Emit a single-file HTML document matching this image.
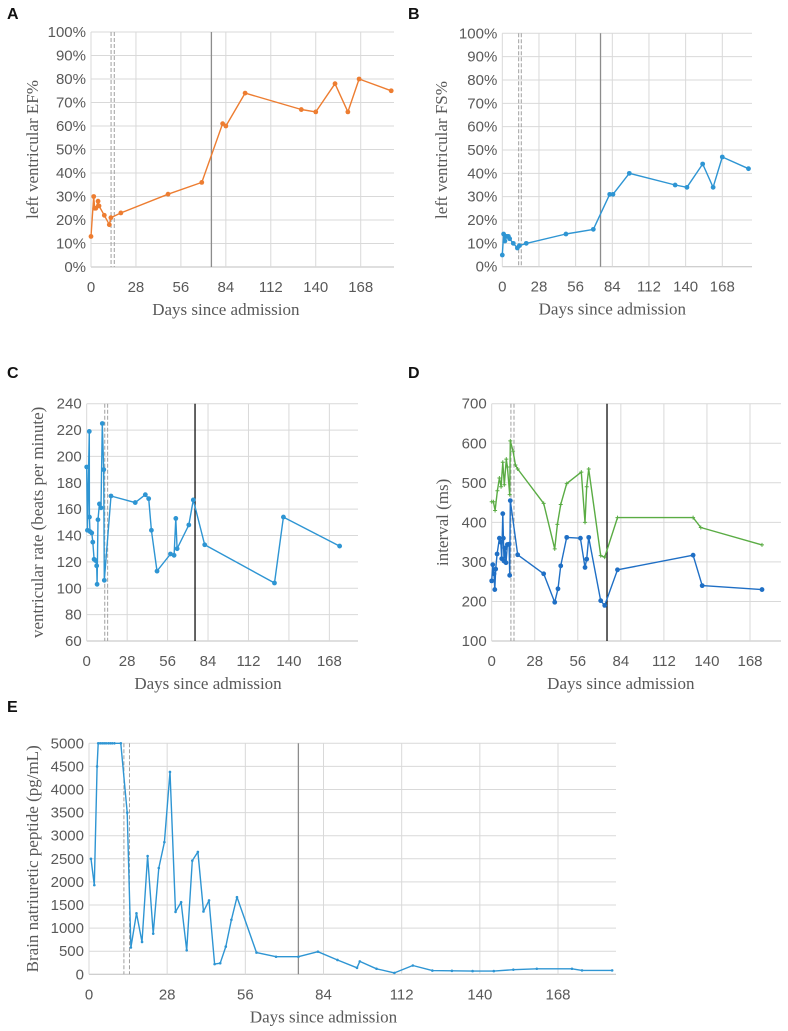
<!DOCTYPE html>
<html><head><meta charset="utf-8"><style>
html,body{margin:0;padding:0;background:#fff;}
svg{display:block;}
.tick{font-family:"Liberation Sans",sans-serif;font-size:15px;fill:#595959;}
.atitle{font-family:"Liberation Serif",serif;font-size:17px;fill:#595959;}
.plabel{font-family:"Liberation Sans",sans-serif;font-size:16px;font-weight:bold;fill:#111;}
</style></head><body>
<svg id="fig" width="788" height="1031" viewBox="0 0 788 1031"></svg>
<script>
// ---- Data ----
const xTicks = [0,28,56,84,112,140,168];
const pctTicks = [0,10,20,30,40,50,60,70,80,90,100];
const hrTicks = [60,80,100,120,140,160,180,200,220,240];
const intTicks = [100,200,300,400,500,600,700];
const bnpTicks = [0,500,1000,1500,2000,2500,3000,3500,4000,4500,5000];
const eventDashedA = 12.5, eventDashedB = 14.5, eventSolid = 75;

const efDays = [0,1.7,2.3,3,4.4,5,8.3,11.4,12.4,18.6,48,69,82,84,96,131,140,152,160,167,187];
const efVals = [13,30,25,25,28,26,22,18,21,23,31,36,61,60,74,67,66,78,66,80,75];

const fsDays = [0,1,2,3.3,4.6,5.6,8.4,11.5,13,18.3,48.6,69.5,82,84.5,97,132,141,153,161,168,188];
const fsVals = [5,14,11,13,13,12,10,8,9,10,14,16,31,31,40,35,34,44,34,47,42];

const hrDays = [0,0.5,1.8,1.9,2.3,3.5,4.2,5.1,6.2,6.9,7.2,7.8,8.8,9.9,10.8,11.8,12.2,16.8,33.6,40.6,42.9,44.8,48.7,58,60.5,61.7,62.6,70.7,73.8,81.7,130,136.2,175.1];
const hrVals = [192,144,219,154,143,142,135,122,121,117,103,152,164,161,225,190,106,170,165,171,168,144,113,126,125,153,130,148,167,133,104,154,132];

const qtDays = [0,0.7,1.5,2,2.6,3.5,5,5.9,6.5,7.2,7.6,8,8.7,9.3,10.2,11.3,11.7,12.1,16.9,33.8,41,43.1,44.9,48.8,57.7,60.7,61.8,63.1,70.9,73.5,81.8,131,136.9,175.8];
const qtVals = [252,293,270,230,282,320,360,350,308,422,360,302,335,298,344,345,266,455,318,270,198,232,290,362,360,286,307,362,202,190,280,317,240,230];
const rrDays = [0,1.1,2.2,3.7,5,6.1,7.2,8.2,9.5,10.2,11.7,12.1,13.9,15.4,16.9,33.8,41,42.7,44.9,48.8,58.3,60.7,61.8,63.1,70.9,73.5,81.8,131,136,175.8];
const rrVals = [452,452,430,480,512,490,552,495,560,540,470,606,580,545,535,448,333,395,445,498,527,400,490,535,316,312,412,412,387,343];

const bnpDays = [0.7,1.9,2.9,3.3,4,4.7,5.4,6.1,6.9,7.6,8.3,9.1,11.4,13.7,15,17,19,21,23,25,27,29,31,33,35,37,39,41,43,45,47,49,51,53,60,67,75,82,89,96,97,103,109.4,116,123,130,137.4,145,152,160.4,173,176.6,187.4];
const bnpVals = [2500,1930,4500,5000,5000,5000,5000,5000,5000,5000,5000,5000,5000,3500,580,1320,700,2560,880,2300,2860,4380,1350,1560,520,2460,2650,1360,1600,220,240,600,1180,1670,470,380,380,490,310,140,280,120,30,190,80,75,70,70,100,120,120,85,85];

// ---- Drawing ----
const NS = "http://www.w3.org/2000/svg";
const fig = document.getElementById('fig');
function mk(tag, attrs, parent){
  const e = document.createElementNS(NS, tag);
  for (const k in attrs) e.setAttribute(k, attrs[k]);
  (parent||fig).appendChild(e);
  return e;
}

function panel(cfg){
  const g = mk('g', {});
  
  
  const xs = d => cfg.x0 + d * cfg.pxPerDay;
  const ys = v => cfg.yBot - (v - cfg.yMin) / (cfg.yMax - cfg.yMin) * (cfg.yBot - cfg.yTop);
  const pl = mk('text', {x: cfg.letterX, y: cfg.letterY, class: 'plabel'}, g);
  pl.textContent = cfg.letter;
  
  
  cfg.yTicks.forEach(v => {
    const ln = mk('line', {x1: cfg.x0, x2: cfg.right, y1: ys(v), y2: ys(v), stroke: v === cfg.yMin ? '#bfbfbf' : '#d9d9d9', 'stroke-width': 1}, g);
    
    
    const t = mk('text', {x: cfg.x0 - 5, y: ys(v) + 5, class: 'tick', 'text-anchor': 'end'}, g);
    t.textContent = v + (cfg.pct ? '%' : '');
    
    
  });
  xTicks.forEach(d => {
    const ln = mk('line', {x1: xs(d), x2: xs(d), y1: cfg.yTop, y2: cfg.yBot, stroke: '#d9d9d9', 'stroke-width': 1}, g);
    
    
    const t = mk('text', {x: xs(d), y: cfg.yBot + 25, class: 'tick', 'text-anchor': 'middle'}, g);
    t.textContent = d;
    
    
  });
  [eventDashedA, eventDashedB].forEach(d => {
    const ln = mk('line', {x1: xs(d), x2: xs(d), y1: cfg.yTop, y2: cfg.yBot, stroke: '#a0a0a0', 'stroke-width': 1, 'stroke-dasharray': '4,2'}, g);
    
    
  });
  const sl = mk('line', {x1: xs(eventSolid), x2: xs(eventSolid), y1: cfg.yTop, y2: cfg.yBot, stroke: cfg.solidColor, 'stroke-width': 1.3}, g);
  
  
  cfg.series.forEach(s => {
    const pts = s.days.map((d, i) => xs(d).toFixed(1) + ',' + ys(s.vals[i]).toFixed(1)).join(' ');
    const pl2 = mk('polyline', {points: pts, fill: 'none', stroke: s.color, 'stroke-width': 1.4, 'stroke-linejoin': 'round'}, g);
    
    
    s.days.forEach((d, i) => {
      let m;
      if (s.marker === 'plus') {
        m = mk('path', {d: `M${xs(d)-2},${ys(s.vals[i])}h4M${xs(d)},${ys(s.vals[i])-2}v4`, stroke: s.color, 'stroke-width': 1}, g);
      } else {
        m = mk('circle', {cx: xs(d), cy: ys(s.vals[i]), r: s.r, fill: s.color}, g);
      }
      
      
    });
  });
  const xt = mk('text', {x: xs(84), y: cfg.yBot + 48, class: 'atitle', 'text-anchor': 'middle'}, g);
  xt.textContent = 'Days since admission';
  
  
  const cy = (cfg.yTop + cfg.yBot) / 2;
  const yt = mk('text', {x: cfg.yTitleX, y: cy, class: 'atitle', 'text-anchor': 'middle', transform: `rotate(-90 ${cfg.yTitleX} ${cy})`}, g);
  yt.textContent = cfg.yTitle;
  
  
}

panel({name: 'panel-a-ef', letter: 'A', letterX: 7, letterY: 19, x0: 91, pxPerDay: 1.6054, right: 394, yTop: 32, yBot: 267, yMin: 0, yMax: 100, yTicks: pctTicks, pct: true, solidColor: '#8c8c8c', yTitle: 'left ventricular EF%', yTitleX: 38,
  series: [{name: 'ef', days: efDays, vals: efVals, color: '#ed7d31', r: 2.4}]});
panel({name: 'panel-b-fs', letter: 'B', letterX: 408, letterY: 19, x0: 502.3, pxPerDay: 1.3095, right: 752, yTop: 33.3, yBot: 266.7, yMin: 0, yMax: 100, yTicks: pctTicks, pct: true, solidColor: '#8c8c8c', yTitle: 'left ventricular  FS%', yTitleX: 447,
  series: [{name: 'fs', days: fsDays, vals: fsVals, color: '#2e95d3', r: 2.4}]});
panel({name: 'panel-c-rate', letter: 'C', letterX: 7, letterY: 378, x0: 86.7, pxPerDay: 1.4444, right: 358, yTop: 403.7, yBot: 641, yMin: 60, yMax: 240, yTicks: hrTicks, pct: false, solidColor: '#111', yTitle: 'ventricular rate (beats per minute)', yTitleX: 43,
  series: [{name: 'ventricular-rate', days: hrDays, vals: hrVals, color: '#2e95d3', r: 2.4}]});
panel({name: 'panel-d-interval', letter: 'D', letterX: 408, letterY: 378, x0: 491.7, pxPerDay: 1.5375, right: 781, yTop: 403.7, yBot: 641, yMin: 100, yMax: 700, yTicks: intTicks, pct: false, solidColor: '#111', yTitle: 'interval (ms)', yTitleX: 448,
  series: [{name: 'rr-interval', days: rrDays, vals: rrVals, color: '#5aac44', marker: 'plus'},
           {name: 'qt-interval', days: qtDays, vals: qtVals, color: '#1f6fc5', r: 2.4}]});
panel({name: 'panel-e-bnp', letter: 'E', letterX: 7, letterY: 712, x0: 89, pxPerDay: 2.7917, right: 616, yTop: 743.3, yBot: 974.3, yMin: 0, yMax: 5000, yTicks: bnpTicks, pct: false, solidColor: '#8c8c8c', yTitle: 'Brain natriuretic peptide (pg/mL)', yTitleX: 38,
  series: [{name: 'bnp', days: bnpDays, vals: bnpVals, color: '#2e95d3', r: 1.3}]});
</script>
</body></html>
